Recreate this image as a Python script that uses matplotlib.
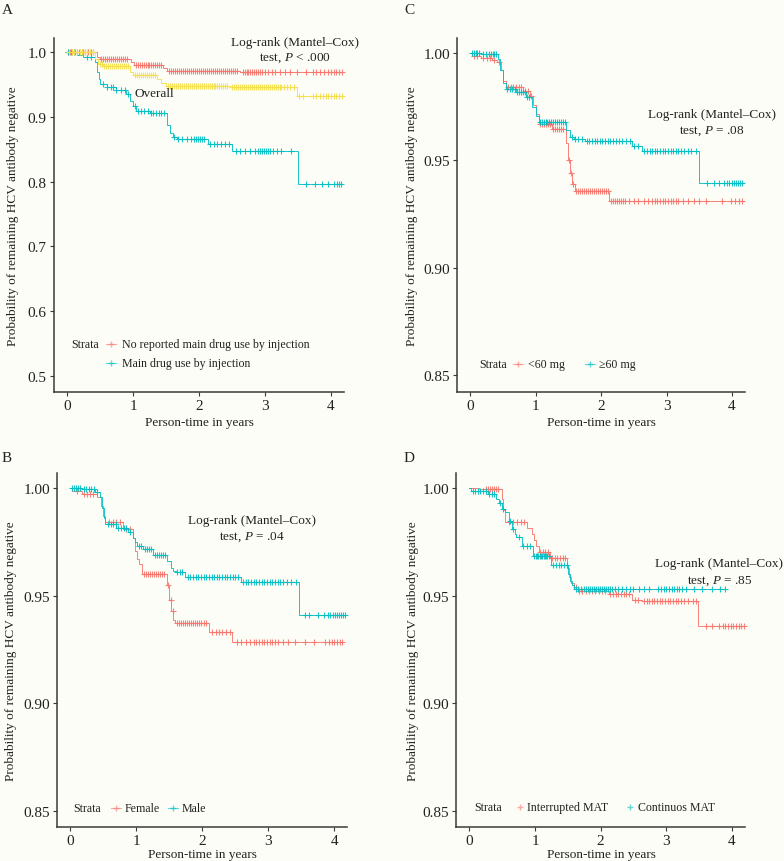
import numpy as np
import matplotlib
matplotlib.use("Agg")
import matplotlib.pyplot as plt
from matplotlib.lines import Line2D

plt.rcParams['font.family'] = ['Liberation Serif', 'DejaVu Serif']
plt.rcParams['mathtext.fontset'] = 'custom'
plt.rcParams['mathtext.rm'] = 'Liberation Serif'
plt.rcParams['mathtext.it'] = 'Liberation Serif:italic'

# ---------------- DATA ----------------
# Panel A: injection drug use
a_noinj_times = [0.45, 0.50, 0.97, 1.02, 1.46, 1.52, 2.62]
a_noinj_surv = [0.993, 0.990, 0.985, 0.981, 0.976, 0.971, 0.969]
a_noinj_end = 4.17
a_noinj_cens = [0.02, 0.05, 0.08, 0.12, 0.15, 0.18, 0.22, 0.25, 0.28, 0.32, 0.36, 0.40,
                0.52, 0.55, 0.58, 0.61, 0.64, 0.67, 0.70, 0.73, 0.76, 0.79, 0.82, 0.85, 0.88, 0.91,
                1.04, 1.07, 1.10, 1.13, 1.16, 1.19, 1.22, 1.25, 1.28, 1.31, 1.34, 1.37, 1.40, 1.43,
                1.55, 1.58, 1.61, 1.64, 1.67, 1.70, 1.73, 1.76, 1.79, 1.82, 1.85, 1.88, 1.91, 1.94,
                1.97, 2.00, 2.03, 2.06, 2.09, 2.12, 2.15, 2.18, 2.21, 2.24, 2.27, 2.30, 2.33, 2.36,
                2.39, 2.42, 2.45, 2.48, 2.51, 2.55, 2.58, 2.66, 2.69, 2.72, 2.75, 2.78, 2.81, 2.84,
                2.87, 2.90, 2.93, 2.96, 3.00, 3.05, 3.10, 3.15, 3.22, 3.30, 3.38, 3.48, 3.62, 3.72,
                3.78, 3.84, 3.90, 3.95, 4.00, 4.04, 4.08, 4.12, 4.16]

a_inj_times = [0.15, 0.24, 0.42, 0.45, 0.48, 0.50, 0.60, 0.75, 0.90, 0.96, 1.00, 1.05, 1.26,
               1.52, 1.56, 1.60, 1.66, 2.14, 2.50, 3.50]
a_inj_surv = [0.996, 0.993, 0.985, 0.970, 0.958, 0.951, 0.946, 0.941, 0.936, 0.925, 0.917,
              0.910, 0.906, 0.888, 0.875, 0.869, 0.866, 0.858, 0.848, 0.797]
a_inj_end = 4.16
a_inj_cens = [0.02, 0.06, 0.10, 0.30, 0.36, 0.55, 0.60, 0.66, 0.70, 0.75, 0.82, 0.88, 0.92,
              1.03, 1.07, 1.12, 1.16, 1.22, 1.27, 1.31, 1.35, 1.39, 1.43, 1.47, 1.62, 1.68,
              1.75, 1.82, 1.88, 1.92, 1.95, 1.98, 2.01, 2.04, 2.08, 2.17, 2.22, 2.28, 2.33,
              2.40, 2.45, 2.56, 2.62, 2.70, 2.78, 2.85, 2.89, 2.93, 2.96, 2.99, 3.02, 3.05,
              3.08, 3.12, 3.18, 3.25, 3.40, 3.62, 3.76, 3.86, 3.95, 4.05, 4.09, 4.12, 4.15]

a_all_times = [0.42, 0.47, 0.55, 0.95, 1.00, 1.36, 1.42, 1.50, 2.47, 3.48]
a_all_surv = [0.990, 0.9815, 0.979, 0.969, 0.965, 0.958, 0.953, 0.948, 0.9457, 0.9318]
a_all_end = 4.20
a_all_cens = [0.03, 0.07, 0.11, 0.15, 0.19, 0.23, 0.27, 0.31, 0.35, 0.39,
              0.50, 0.53, 0.56, 0.59, 0.62, 0.65, 0.68, 0.71, 0.74, 0.77, 0.80, 0.83, 0.86, 0.89, 0.92,
              1.03, 1.06, 1.09, 1.12, 1.15, 1.18, 1.21, 1.24, 1.27, 1.30, 1.33,
              1.53, 1.56, 1.59, 1.62, 1.65, 1.68, 1.71, 1.74, 1.77, 1.80, 1.83, 1.86, 1.89, 1.92,
              1.95, 1.98, 2.01, 2.04, 2.07, 2.10, 2.13, 2.16, 2.19, 2.22, 2.25, 2.28, 2.31, 2.34,
              2.37, 2.40, 2.43, 2.50, 2.53, 2.56, 2.59, 2.62, 2.65, 2.68, 2.71, 2.74, 2.77, 2.80,
              2.83, 2.86, 2.89, 2.92, 2.95, 2.98, 3.01, 3.04, 3.07, 3.10, 3.13, 3.16, 3.19, 3.22,
              3.25, 3.29, 3.33, 3.38, 3.44, 3.52, 3.58, 3.72, 3.78, 3.84, 3.88, 3.92, 3.96, 4.00,
              4.04, 4.08, 4.12, 4.16]

# Panel C: methadone dose
c_low_times = [0.02, 0.17, 0.33, 0.41, 0.47, 0.50, 0.54, 0.80, 0.92, 0.96, 1.00, 1.05, 1.25,
               1.47, 1.50, 1.53, 1.56, 1.60, 2.12]
c_low_surv = [0.9987, 0.9979, 0.9968, 0.9957, 0.992, 0.987, 0.984, 0.9825, 0.980, 0.976,
              0.9716, 0.967, 0.9646, 0.958, 0.950, 0.944, 0.939, 0.9359, 0.9312]
c_low_end = 4.18
c_low_cens = [0.05, 0.10, 0.20, 0.25, 0.30, 0.36, 0.44, 0.58, 0.62, 0.66, 0.70, 0.74, 0.78,
              0.84, 0.88, 0.93, 1.07, 1.10, 1.13, 1.16, 1.19, 1.22, 1.27, 1.30, 1.33, 1.36,
              1.39, 1.42, 1.51, 1.54, 1.57, 1.62, 1.65, 1.68, 1.71, 1.74, 1.77, 1.80, 1.83,
              1.86, 1.89, 1.92, 1.95, 1.98, 2.01, 2.04, 2.07, 2.10, 2.15, 2.18, 2.21, 2.24,
              2.27, 2.30, 2.33, 2.36, 2.42, 2.50, 2.56, 2.65, 2.72, 2.78, 2.82, 2.86, 2.90,
              2.94, 2.98, 3.02, 3.06, 3.10, 3.14, 3.18, 3.25, 3.32, 3.42, 3.50, 3.60, 3.85,
              3.98, 4.05, 4.10, 4.15]

c_high_times = [0.17, 0.43, 0.46, 0.50, 0.54, 0.70, 0.85, 0.95, 1.00, 1.05, 1.47, 1.52, 1.58,
                1.75, 2.47, 2.63, 3.49]
c_high_surv = [0.9995, 0.997, 0.992, 0.986, 0.9832, 0.9817, 0.9794, 0.975, 0.9705, 0.9677,
               0.964, 0.961, 0.9600, 0.9591, 0.9568, 0.9545, 0.9393]
c_high_end = 4.18
c_high_cens = [0.02, 0.05, 0.08, 0.11, 0.14, 0.20, 0.24, 0.28, 0.31, 0.34, 0.37, 0.40, 0.56,
               0.60, 0.64, 0.68, 0.72, 0.75, 0.78, 0.81, 0.84, 0.87, 0.90, 1.06, 1.09, 1.12,
               1.15, 1.18, 1.21, 1.24, 1.27, 1.30, 1.33, 1.36, 1.39, 1.42, 1.45, 1.55, 1.60,
               1.65, 1.70, 1.78, 1.82, 1.86, 1.90, 1.94, 1.98, 2.02, 2.06, 2.10, 2.14, 2.18,
               2.22, 2.27, 2.32, 2.38, 2.44, 2.50, 2.56, 2.66, 2.70, 2.74, 2.78, 2.82, 2.86,
               2.90, 2.94, 2.98, 3.02, 3.06, 3.10, 3.14, 3.18, 3.22, 3.27, 3.33, 3.38, 3.45,
               3.62, 3.72, 3.80, 3.88, 3.92, 3.96, 4.00, 4.03, 4.06, 4.09, 4.12, 4.15]

# Panel B: sex
b_fem_times = [0.03, 0.17, 0.40, 0.46, 0.50, 0.53, 0.80, 0.95, 0.98, 1.01, 1.04, 1.09, 1.46,
               1.50, 1.53, 1.56, 1.59, 2.10, 2.45]
b_fem_surv = [0.9989, 0.9973, 0.9958, 0.992, 0.987, 0.9842, 0.981, 0.977, 0.971, 0.967,
              0.9648, 0.9604, 0.955, 0.948, 0.943, 0.939, 0.9376, 0.933, 0.9283]
b_fem_end = 4.15
b_fem_cens = [0.10, 0.20, 0.25, 0.30, 0.35, 0.58, 0.64, 0.70, 0.76, 0.84, 0.90, 1.12, 1.15,
              1.18, 1.21, 1.24, 1.27, 1.30, 1.33, 1.36, 1.39, 1.42, 1.48, 1.52, 1.55, 1.62,
              1.65, 1.68, 1.71, 1.74, 1.77, 1.80, 1.83, 1.86, 1.89, 1.92, 1.95, 1.98, 2.02,
              2.06, 2.15, 2.20, 2.25, 2.30, 2.36, 2.42, 2.52, 2.58, 2.66, 2.72, 2.78, 2.82,
              2.86, 2.90, 2.94, 2.98, 3.02, 3.06, 3.10, 3.15, 3.22, 3.30, 3.40, 3.55, 3.70,
              3.86, 3.92, 3.96, 4.00, 4.04, 4.08, 4.12]

b_male_times = [0.18, 0.38, 0.45, 0.48, 0.51, 0.53, 0.70, 0.88, 0.95, 0.98, 1.01, 1.10, 1.25,
                1.47, 1.52, 1.56, 1.60, 1.74, 2.58, 3.46]
b_male_surv = [0.9997, 0.9981, 0.996, 0.991, 0.986, 0.9834, 0.9818, 0.9795, 0.977, 0.975,
               0.9733, 0.9718, 0.969, 0.966, 0.963, 0.9615, 0.9609, 0.959, 0.9565, 0.941]
b_male_end = 4.17
b_male_cens = [0.02, 0.05, 0.08, 0.11, 0.14, 0.20, 0.24, 0.28, 0.32, 0.36, 0.41, 0.57, 0.61,
               0.65, 0.69, 0.73, 0.77, 0.81, 0.85, 0.90, 1.04, 1.07, 1.13, 1.16, 1.19, 1.22,
               1.28, 1.31, 1.34, 1.37, 1.40, 1.43, 1.62, 1.66, 1.70, 1.78, 1.82, 1.86, 1.90,
               1.94, 1.98, 2.02, 2.06, 2.10, 2.14, 2.18, 2.22, 2.26, 2.30, 2.34, 2.38, 2.42,
               2.46, 2.50, 2.54, 2.62, 2.66, 2.70, 2.74, 2.78, 2.82, 2.86, 2.90, 2.94, 2.98,
               3.02, 3.06, 3.10, 3.14, 3.18, 3.22, 3.28, 3.34, 3.42, 3.55, 3.62, 3.75, 3.85,
               3.90, 3.94, 3.98, 4.01, 4.04, 4.07, 4.10, 4.13, 4.16]

# Panel D: MAT continuity
d_int_times = [0.14, 0.50, 0.52, 0.55, 0.88, 0.95, 0.98, 1.01, 1.06, 1.23, 1.49, 1.52, 1.55,
               1.59, 1.65, 2.12, 2.48, 2.63, 3.49]
d_int_surv = [0.9997, 0.995, 0.990, 0.9845, 0.9818, 0.979, 0.976, 0.973, 0.9705, 0.9674,
              0.963, 0.959, 0.956, 0.9539, 0.9524, 0.9508, 0.9482, 0.9477, 0.9361]
d_int_end = 4.20
d_int_cens = [0.25, 0.28, 0.31, 0.34, 0.37, 0.40, 0.43, 0.60, 0.66, 0.72, 0.78, 0.83, 1.08,
              1.12, 1.16, 1.20, 1.26, 1.30, 1.34, 1.38, 1.42, 1.46, 1.62, 1.67, 1.72, 1.77,
              1.82, 1.87, 1.92, 1.97, 2.02, 2.07, 2.15, 2.19, 2.23, 2.27, 2.31, 2.35, 2.39,
              2.43, 2.52, 2.57, 2.66, 2.70, 2.74, 2.78, 2.82, 2.86, 2.90, 2.94, 2.98, 3.02,
              3.06, 3.10, 3.14, 3.18, 3.22, 3.27, 3.33, 3.40, 3.45, 3.60, 3.70, 3.80, 3.86,
              3.90, 3.94, 3.98, 4.02, 4.06, 4.10, 4.14, 4.18]

d_cont_times = [0.03, 0.28, 0.40, 0.45, 0.50, 0.55, 0.60, 0.65, 0.69, 0.71, 0.80, 0.97, 1.25,
                1.51, 1.54, 1.57, 1.59]
d_cont_surv = [0.9989, 0.9973, 0.995, 0.993, 0.9905, 0.9888, 0.985, 0.981, 0.9787, 0.9772,
               0.9733, 0.9686, 0.9643, 0.960, 0.957, 0.955, 0.9531]
d_cont_end = 3.90
d_cont_cens = [0.05, 0.09, 0.13, 0.17, 0.21, 0.25, 0.30, 0.34, 0.38, 0.47, 0.52, 0.62, 0.67,
               0.75, 0.82, 0.88, 0.93, 0.99, 1.01, 1.03, 1.05, 1.07, 1.09, 1.11, 1.13, 1.15,
               1.17, 1.19, 1.21, 1.28, 1.32, 1.36, 1.40, 1.44, 1.48, 1.62, 1.66, 1.70, 1.74,
               1.78, 1.81, 1.84, 1.87, 1.90, 1.93, 1.96, 1.99, 2.02, 2.05, 2.08, 2.11, 2.14,
               2.18, 2.22, 2.27, 2.32, 2.38, 2.44, 2.50, 2.58, 2.66, 2.74, 2.88, 2.92, 2.96,
               3.00, 3.04, 3.08, 3.12, 3.16, 3.20, 3.24, 3.30, 3.42, 3.55, 3.70, 3.82, 3.90]

x_ticks = [0, 1, 2, 3, 4]
a_yticks = [0.5, 0.6, 0.7, 0.8, 0.9, 1.0]
a_yticklabels = ["0.5", "0.6", "0.7", "0.8", "0.9", "1.0"]
bcd_yticks = [0.85, 0.90, 0.95, 1.00]
bcd_yticklabels = ["0.85", "0.90", "0.95", "1.00"]

# ---------------- STYLE ----------------
W, H = 784, 862
BG = '#FDFDF7'
RED = '#F8766D'
CYAN = '#00BFC4'
YELLOW = '#F5E04B'
TXT = '#222222'
AX = '#3a3a3a'

fig = plt.figure(figsize=(W / 100, H / 100), dpi=100, facecolor=BG)


def px_axes(l, t, r, b):
    ax = fig.add_axes([l / W, 1 - b / H, (r - l) / W, (b - t) / H])
    ax.set_facecolor(BG)
    for s in ['top', 'right']:
        ax.spines[s].set_visible(False)
    for s in ['left', 'bottom']:
        ax.spines[s].set_color(AX)
        ax.spines[s].set_linewidth(1.1)
    ax.tick_params(direction='out', length=3, width=0.8, color=AX,
                   labelsize=11, labelcolor=TXT, pad=2)
    ax.set_xlim(-0.2, 4.2)
    ax.set_xticks(x_ticks)
    return ax


def km(ax, times, surv, end, cens, color):
    t = np.concatenate([[0.0], times, [end]])
    s = np.concatenate([[1.0], surv, [surv[-1]]])
    ax.step(t, s, where='post', color=color, lw=0.7, alpha=0.9, clip_on=False)
    knots = np.concatenate([[0.0], times])
    vals = np.concatenate([[1.0], surv])
    idx = np.searchsorted(knots, cens, side='right') - 1
    ax.plot(cens, vals[idx], ls='none', marker='+', ms=4.0, mew=0.8,
            color=color, alpha=0.9, clip_on=False)


def ftext(x, y, s, **kw):
    kw.setdefault('color', TXT)
    fig.text(x / W, 1 - y / H, s, **kw)


def legend_key(x, y, color, line=True):
    if line:
        fig.add_artist(Line2D([(x - 5) / W, (x + 5) / W], [1 - y / H, 1 - y / H],
                              transform=fig.transFigure, color=color, lw=0.8, alpha=0.6))
    fig.add_artist(Line2D([x / W], [1 - y / H], transform=fig.transFigure, ls='none',
                          marker='+', ms=5, mew=1.0, color=color, alpha=0.6))


YLAB = "Probability of remaining HCV antibody negative"
XLAB = "Person-time in years"
FS = 9.5
LFS = 8.6

# ---- Panel A ----
axA = px_axes(53.8, 39.3, 344.2, 393)
axA.set_ylim(0.475, 1.0216)
axA.set_yticks(a_yticks)
axA.set_yticklabels(a_yticklabels)
km(axA, a_noinj_times, a_noinj_surv, a_noinj_end, a_noinj_cens, RED)
km(axA, a_inj_times, a_inj_surv, a_inj_end, a_inj_cens, CYAN)
km(axA, a_all_times, a_all_surv, a_all_end, a_all_cens, YELLOW)
axA.text(3.45, 1.0159, "Log-rank (Mantel–Cox)", ha='center', va='center', fontsize=FS, color=TXT)
axA.text(3.45, 0.9923, "test, $P$ < .000", ha='center', va='center', fontsize=FS, color=TXT)
axA.text(1.33, 0.9365, "Overall", ha='center', va='center', fontsize=FS, color=TXT)
ftext(2, 10, "A", fontsize=11, va='center', ha='left')
ftext(13, 216, YLAB, fontsize=FS, rotation=90, ha='center', va='center')
ftext(199, 423, XLAB, fontsize=FS, ha='center', va='center')
ftext(71, 345, "Strata", fontsize=LFS, ha='left', va='center')
legend_key(111, 345, RED)
ftext(122, 345, "No reported main drug use by injection", fontsize=LFS, ha='left', va='center')
legend_key(111, 364, CYAN)
ftext(122, 364, "Main drug use by injection", fontsize=LFS, ha='left', va='center')

# ---- Panel C ----
axC = px_axes(457.2, 39, 745.1, 393)
axC.set_ylim(0.842, 1.007)
axC.set_yticks(bcd_yticks)
axC.set_yticklabels(bcd_yticklabels)
km(axC, c_low_times, c_low_surv, c_low_end, c_low_cens, RED)
km(axC, c_high_times, c_high_surv, c_high_end, c_high_cens, CYAN)
axC.text(3.69, 0.9716, "Log-rank (Mantel–Cox)", ha='center', va='center', fontsize=FS, color=TXT, clip_on=False)
axC.text(3.69, 0.9641, "test, $P$ = .08", ha='center', va='center', fontsize=FS, color=TXT, clip_on=False)
ftext(404, 10, "C", fontsize=11, va='center', ha='left')
ftext(412, 216, YLAB, fontsize=FS, rotation=90, ha='center', va='center')
ftext(601, 423, XLAB, fontsize=FS, ha='center', va='center')
ftext(479, 365, "Strata", fontsize=LFS, ha='left', va='center')
legend_key(518, 365, RED)
ftext(527.5, 365, "<60 mg", fontsize=LFS, ha='left', va='center')
legend_key(589.5, 365, CYAN)
ftext(599, 365, "≥60 mg", fontsize=LFS, ha='left', va='center')

# ---- Panel B ----
axB = px_axes(57.1, 473.7, 347.5, 827.7)
axB.set_ylim(0.8426, 1.0073)
axB.set_yticks(bcd_yticks)
axB.set_yticklabels(bcd_yticklabels)
km(axB, b_fem_times, b_fem_surv, b_fem_end, b_fem_cens, RED)
km(axB, b_male_times, b_male_surv, b_male_end, b_male_cens, CYAN)
axB.text(2.75, 0.9852, "Log-rank (Mantel–Cox)", ha='center', va='center', fontsize=FS, color=TXT)
axB.text(2.75, 0.9778, "test, $P$ = .04", ha='center', va='center', fontsize=FS, color=TXT)
ftext(2, 459, "B", fontsize=11, va='center', ha='left')
ftext(11.5, 651, YLAB, fontsize=FS, rotation=90, ha='center', va='center')
ftext(202.5, 855, XLAB, fontsize=FS, ha='center', va='center')
ftext(73, 809.3, "Strata", fontsize=LFS, ha='left', va='center')
legend_key(115.5, 809.3, RED)
ftext(124.3, 809.3, "Female", fontsize=LFS, ha='left', va='center')
legend_key(173.3, 809.3, CYAN)
ftext(181.7, 809.3, "Male", fontsize=LFS, ha='left', va='center')

# ---- Panel D ----
axD = px_axes(456.2, 473.7, 745.1, 827.7)
axD.set_ylim(0.8426, 1.0073)
axD.set_yticks(bcd_yticks)
axD.set_yticklabels(bcd_yticklabels)
km(axD, d_int_times, d_int_surv, d_int_end, d_int_cens, RED)
km(axD, d_cont_times, d_cont_surv, d_cont_end, d_cont_cens, CYAN)
axD.text(3.81, 0.9652, "Log-rank (Mantel–Cox)", ha='center', va='center', fontsize=FS, color=TXT, clip_on=False)
axD.text(3.81, 0.9573, "test, $P$ = .85", ha='center', va='center', fontsize=FS, color=TXT, clip_on=False)
ftext(404, 459, "D", fontsize=11, va='center', ha='left')
ftext(413, 651, YLAB, fontsize=FS, rotation=90, ha='center', va='center')
ftext(601, 855, XLAB, fontsize=FS, ha='center', va='center')
ftext(474.7, 807.7, "Strata", fontsize=LFS, ha='left', va='center')
legend_key(519.8, 807.7, RED, line=False)
ftext(527, 807.7, "Interrupted MAT", fontsize=LFS, ha='left', va='center')
legend_key(629.5, 807.7, CYAN, line=False)
ftext(637.7, 807.7, "Continuos MAT", fontsize=LFS, ha='left', va='center')

fig.savefig("out.png", dpi=100, facecolor=BG)
